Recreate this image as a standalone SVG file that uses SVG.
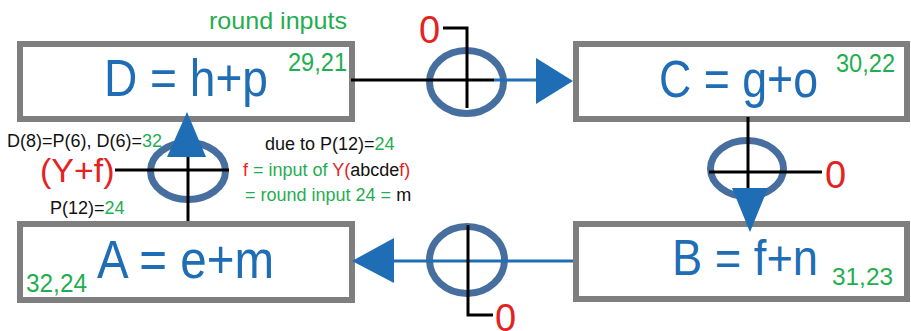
<svg xmlns="http://www.w3.org/2000/svg" width="911" height="331" viewBox="0 0 911 331">
<style>
text{font-family:"Liberation Sans",Arial,sans-serif}
.box{fill:#fff;stroke:#7f7f7f;stroke-width:6}
.main{fill:#1f6db5;font-size:52px}
.num{fill:#1fae50;font-size:25px}
.zero{fill:#e3231f;font-size:38px}
.sm{font-size:18px;fill:#111}
.g{fill:#1fae50}
.r{fill:#e3231f}
.xor{fill:none;stroke:#466f9f;stroke-width:7}
.bk{stroke:#000;stroke-width:3;fill:none}
.bl{stroke:#1f6db5;stroke-width:3;fill:none}
.ah{fill:#1f6db5}
</style>
<text x="209" y="29" class="num" style="font-size:24px" textLength="138" lengthAdjust="spacingAndGlyphs">round inputs</text>
<g id="nodeD">
<rect class="box" x="20" y="44" width="332" height="75"/>
<text x="104" y="96" class="main" textLength="164" lengthAdjust="spacingAndGlyphs">D = h+p</text>
<text x="288" y="71" class="num" textLength="59" lengthAdjust="spacingAndGlyphs">29,21</text>
</g>
<g id="nodeC">
<rect class="box" x="576" y="44" width="331" height="75"/>
<text x="659" y="97" class="main" textLength="159" lengthAdjust="spacingAndGlyphs">C = g+o</text>
<text x="836" y="72" class="num" textLength="59" lengthAdjust="spacingAndGlyphs">30,22</text>
</g>
<g id="nodeB">
<rect class="box" x="576" y="224" width="331" height="75"/>
<text x="672" y="275" class="main" style="font-size:50px" textLength="146" lengthAdjust="spacingAndGlyphs">B = f+n</text>
<text x="832" y="285" class="num" style="font-size:24px" textLength="61" lengthAdjust="spacingAndGlyphs">31,23</text>
</g>
<g id="nodeA">
<rect class="box" x="20" y="224" width="332" height="76"/>
<text x="97" y="278" class="main" style="font-size:54px" textLength="177" lengthAdjust="spacingAndGlyphs">A = e+m</text>
<text x="26" y="292" class="num" style="font-size:26px" textLength="61" lengthAdjust="spacingAndGlyphs">32,24</text>
</g>
<g id="connectors">
<!-- D to C -->
<ellipse class="xor" cx="466.5" cy="82" rx="37" ry="31.5"/>
<line class="bk" x1="351" y1="80" x2="494" y2="80"/>
<polyline class="bk" points="443,28 467,28 467,108"/>
<line class="bl" x1="494" y1="80" x2="540" y2="80"/>
<polygon class="ah" points="536,58 573,81 536,104"/>
<text x="419" y="43" class="zero">0</text>
<!-- C to B -->
<ellipse class="xor" cx="747" cy="168.5" rx="36.5" ry="28"/>
<line class="bk" x1="748" y1="117" x2="748" y2="192"/>
<line class="bk" x1="709" y1="172" x2="822" y2="172"/>
<polygon class="ah" points="732,188 768,188 750,232"/>
<text x="825" y="188" class="zero">0</text>
<!-- B to A -->
<ellipse class="xor" cx="467" cy="260" rx="37.5" ry="33.5"/>
<line class="bl" x1="573" y1="261" x2="390" y2="261"/>
<polyline class="bk" points="468,225 468,315 493,315"/>
<polygon class="ah" points="394,238 352,261 394,283"/>
<text x="495" y="331" class="zero">0</text>
<!-- A to D -->
<ellipse class="xor" cx="188" cy="171" rx="37.5" ry="28.5"/>
<line class="bk" x1="188" y1="221" x2="188" y2="155"/>
<line class="bk" x1="115" y1="170" x2="229" y2="170"/>
<polygon class="ah" points="167,157 206,157 187,112"/>
</g>
<text x="40" y="182" class="r" style="font-size:34px">(Y+f)</text>
<text x="7" y="147" class="sm">D(8)=P(6), D(6)=<tspan class="g">32</tspan></text>
<text x="50" y="214" class="sm">P(12)=<tspan class="g">24</tspan></text>
<text x="265" y="150" class="sm">due to P(12)=<tspan class="g">24</tspan></text>
<text x="243" y="176" class="sm"><tspan class="r">f</tspan><tspan class="g"> = input of </tspan><tspan class="r">Y(</tspan>abcde<tspan class="r">f)</tspan></text>
<text x="245" y="201" class="sm"><tspan class="g">= round input 24 = </tspan>m</text>
</svg>
